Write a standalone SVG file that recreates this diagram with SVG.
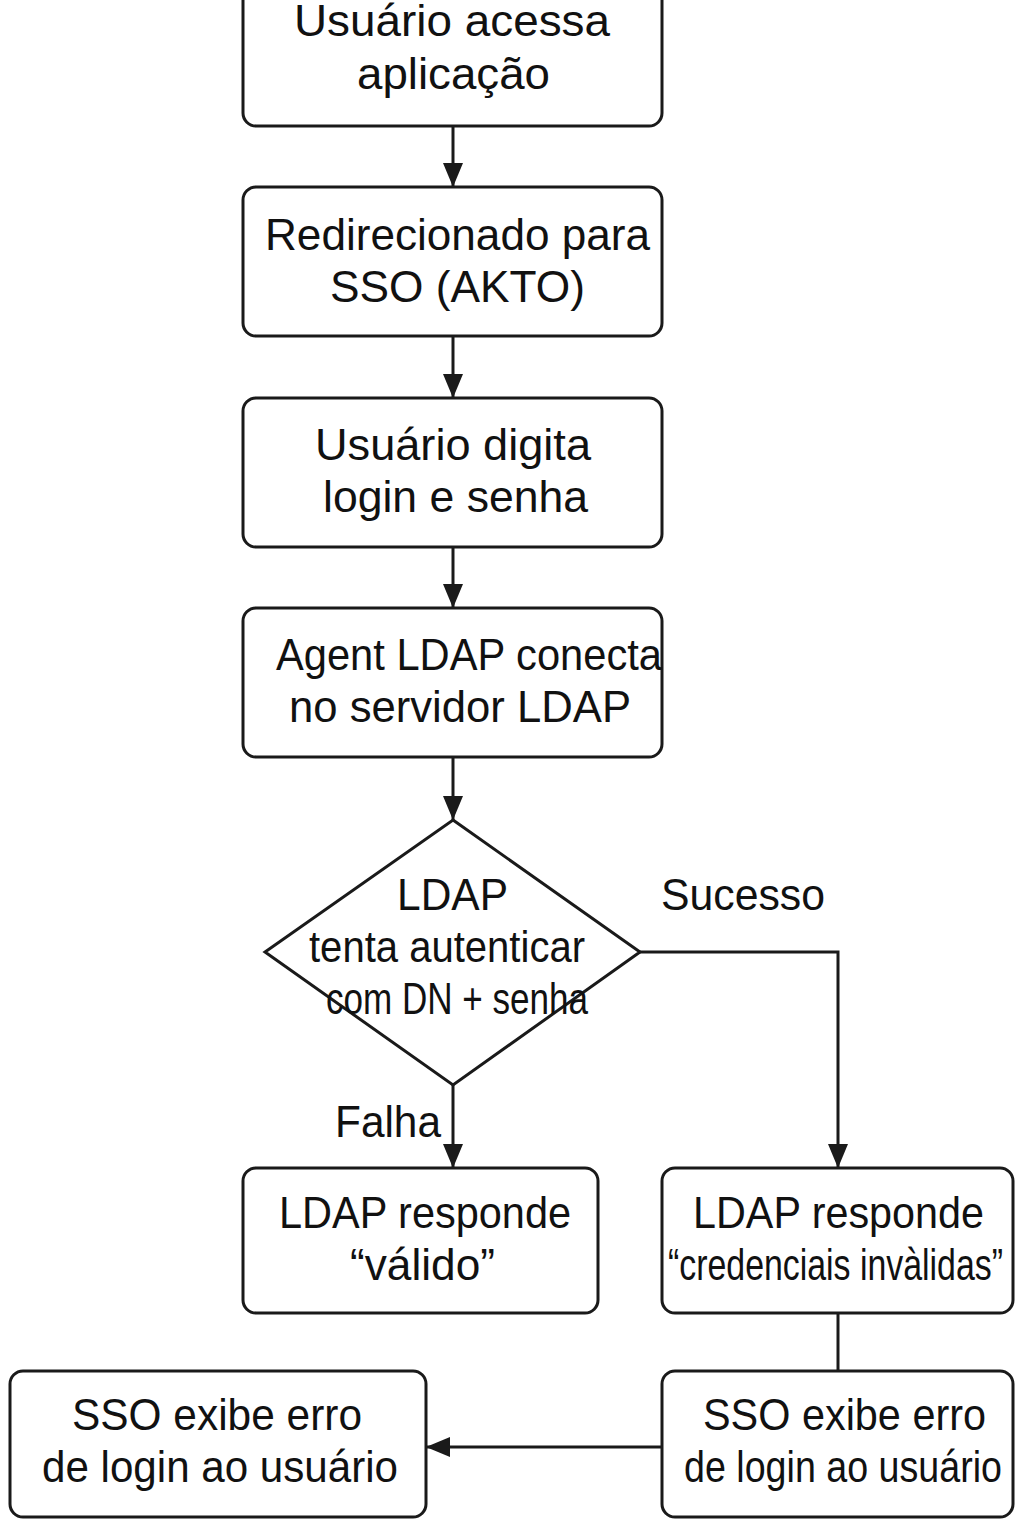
<svg xmlns="http://www.w3.org/2000/svg" width="1024" height="1536" viewBox="0 0 1024 1536">
<defs>
<marker id="ah" viewBox="0 0 24 20" markerWidth="24" markerHeight="20" refX="24" refY="10" orient="auto" markerUnits="userSpaceOnUse">
<path d="M0,0 L24,10 L0,20 z" fill="#1a1a1a"/>
</marker>
<style>
.box{fill:#fff;stroke:#1a1a1a;stroke-width:3}
.t{font-family:"Liberation Sans",Arial,sans-serif;font-size:45px;fill:#111}
.c{fill:none;stroke:#1a1a1a;stroke-width:3}
</style>
</defs>
<rect width="1024" height="1536" fill="#fff"/>
<g id="connectors">
<line class="c" x1="453" y1="126" x2="453" y2="187" marker-end="url(#ah)"/>
<line class="c" x1="453" y1="336" x2="453" y2="398" marker-end="url(#ah)"/>
<line class="c" x1="453" y1="547" x2="453" y2="608" marker-end="url(#ah)"/>
<line class="c" x1="453" y1="757" x2="453" y2="820" marker-end="url(#ah)"/>
<line class="c" x1="453" y1="1085" x2="453" y2="1168" marker-end="url(#ah)"/>
<polyline class="c" points="640,952 838,952 838,1168" marker-end="url(#ah)"/>
<line class="c" x1="838" y1="1313" x2="838" y2="1371"/>
<line class="c" x1="662" y1="1447" x2="426" y2="1447" marker-end="url(#ah)"/>
<text class="t" x="661" y="910" textLength="164" lengthAdjust="spacingAndGlyphs">Sucesso</text>
<text class="t" x="335" y="1137" textLength="106" lengthAdjust="spacingAndGlyphs">Falha</text>
</g>
<g id="n1">
<rect class="box" x="243" y="-30" width="419" height="156" rx="13"/>
<text class="t" x="294" y="36" textLength="316" lengthAdjust="spacingAndGlyphs">Usuário acessa</text>
<text class="t" x="357" y="89" textLength="193" lengthAdjust="spacingAndGlyphs">aplicação</text>
</g>
<g id="n2">
<rect class="box" x="243" y="187" width="419" height="149" rx="13"/>
<text class="t" x="265" y="250" textLength="385" lengthAdjust="spacingAndGlyphs">Redirecionado para</text>
<text class="t" x="330" y="302" textLength="255" lengthAdjust="spacingAndGlyphs">SSO (AKTO)</text>
</g>
<g id="n3">
<rect class="box" x="243" y="398" width="419" height="149" rx="13"/>
<text class="t" x="315" y="460" textLength="276" lengthAdjust="spacingAndGlyphs">Usuário digita</text>
<text class="t" x="323" y="512" textLength="265" lengthAdjust="spacingAndGlyphs">login e senha</text>
</g>
<g id="n4">
<rect class="box" x="243" y="608" width="419" height="149" rx="13"/>
<text class="t" x="276" y="670" textLength="386" lengthAdjust="spacingAndGlyphs">Agent LDAP conecta</text>
<text class="t" x="289" y="722" textLength="342" lengthAdjust="spacingAndGlyphs">no servidor LDAP</text>
</g>
<g id="n5">
<polygon class="box" points="453,820 640,952 453,1085 265,952"/>
<text class="t" x="397" y="910" textLength="111" lengthAdjust="spacingAndGlyphs">LDAP</text>
<text class="t" x="309" y="962" textLength="276" lengthAdjust="spacingAndGlyphs">tenta autenticar</text>
<text class="t" x="326" y="1014" textLength="262" lengthAdjust="spacingAndGlyphs">com DN + senha</text>
</g>
<g id="n6">
<rect class="box" x="243" y="1168" width="355" height="145" rx="13"/>
<text class="t" x="279" y="1228" textLength="292" lengthAdjust="spacingAndGlyphs">LDAP responde</text>
<text class="t" x="350" y="1280" textLength="145" lengthAdjust="spacingAndGlyphs">“válido”</text>
</g>
<g id="n7">
<rect class="box" x="662" y="1168" width="351" height="145" rx="13"/>
<text class="t" x="693" y="1228" textLength="291" lengthAdjust="spacingAndGlyphs">LDAP responde</text>
<text class="t" x="668" y="1280" textLength="335" lengthAdjust="spacingAndGlyphs">“credenciais invàlidas”</text>
</g>
<g id="n8">
<rect class="box" x="10" y="1371" width="416" height="146" rx="13"/>
<text class="t" x="72" y="1430" textLength="290" lengthAdjust="spacingAndGlyphs">SSO exibe erro</text>
<text class="t" x="42" y="1482" textLength="356" lengthAdjust="spacingAndGlyphs">de login ao usuário</text>
</g>
<g id="n9">
<rect class="box" x="662" y="1371" width="351" height="146" rx="13"/>
<text class="t" x="703" y="1430" textLength="283" lengthAdjust="spacingAndGlyphs">SSO exibe erro</text>
<text class="t" x="684" y="1482" textLength="318" lengthAdjust="spacingAndGlyphs">de login ao usuário</text>
</g>
</svg>
